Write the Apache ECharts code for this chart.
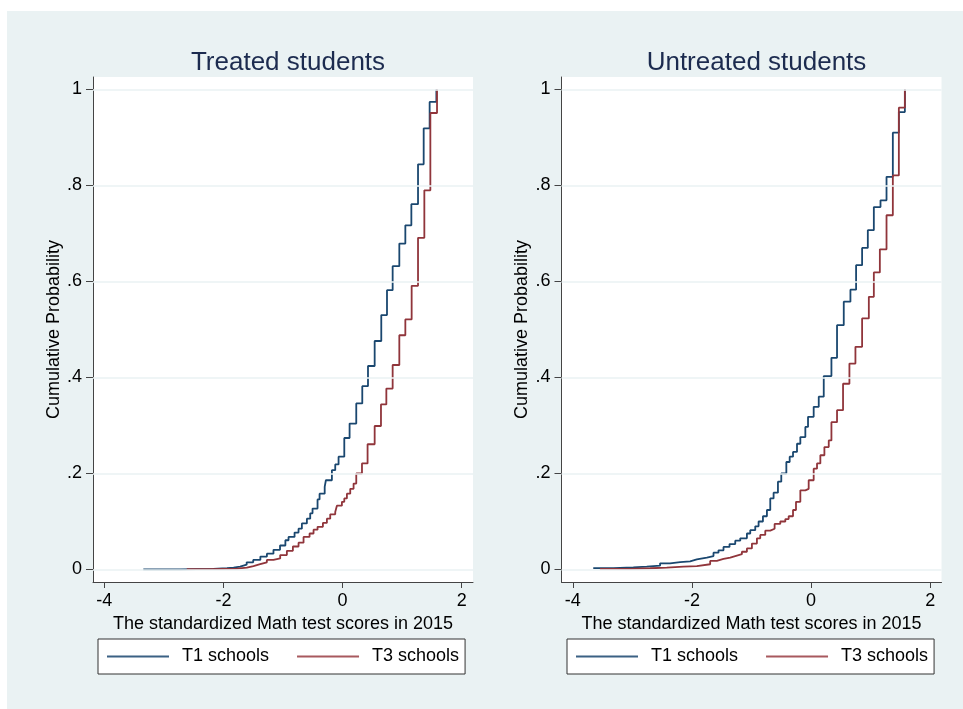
<!DOCTYPE html>
<html>
<head>
<meta charset="utf-8">
<script src="https://cdn.jsdelivr.net/npm/echarts@6/dist/echarts.min.js"></script>
<style>
html,body{margin:0;padding:0;background:#fff;}
#chart{width:963px;height:709px;background:#eaf2f3;box-shadow:inset 7px 11px 0 0 #fff;}
</style>
</head>
<body>
<div id="chart"></div>
<script>
// ---- data (ECDF step points: x = score, F = cumulative probability) ----
const panelTitles = ['Treated students', 'Untreated students'];
const seriesNames = ['T1 schools', 'T3 schools'];
const xTicks = [-4, -2, 0, 2];
const yTicks = [0, 0.2, 0.4, 0.6, 0.8, 1];
const yTickLabels = ['0', '.2', '.4', '.6', '.8', '1'];
const xAxisTitle = 'The standardized Math test scores in 2015';
const yAxisTitle = 'Cumulative Probability';

const t1TreatedX = [-3.345, -2.73, -2.17, -1.94, -1.83, -1.72, -1.61, -1.50, -1.38, -1.27, -1.16, -1.05, -0.96, -0.907, -0.806, -0.739, -0.683, -0.599, -0.543, -0.504, -0.42, -0.386, -0.30, -0.28, -0.179, -0.123, -0.067, 0.029, 0.118, 0.230, 0.331, 0.427, 0.539, 0.650, 0.746, 0.841, 0.953, 1.054, 1.155, 1.267, 1.362, 1.462, 1.575];
const t1TreatedF = [0.0005, 0.0014, 0.0028, 0.004, 0.006, 0.010, 0.015, 0.020, 0.027, 0.033, 0.041, 0.050, 0.061, 0.068, 0.077, 0.085, 0.096, 0.106, 0.117, 0.127, 0.146, 0.158, 0.172, 0.186, 0.207, 0.219, 0.235, 0.274, 0.304, 0.346, 0.382, 0.424, 0.476, 0.530, 0.582, 0.632, 0.679, 0.717, 0.761, 0.844, 0.919, 0.974, 1.0];

const t3TreatedX = [-2.615, -2.28, -2.0, -1.775, -1.607, -1.496, -1.383, -1.271, -1.160, -1.047, -0.935, -0.834, -0.739, -0.655, -0.554, -0.487, -0.42, -0.33, -0.263, -0.207, -0.123, -0.095, -0.011, 0.029, 0.073, 0.129, 0.185, 0.230, 0.326, 0.42, 0.539, 0.645, 0.735, 0.841, 0.953, 1.054, 1.16, 1.267, 1.373, 1.474, 1.586];
const t3TreatedF = [0.0008, 0.0015, 0.002, 0.004, 0.007, 0.011, 0.015, 0.020, 0.023, 0.030, 0.039, 0.048, 0.056, 0.068, 0.075, 0.083, 0.089, 0.097, 0.106, 0.115, 0.120, 0.133, 0.141, 0.148, 0.158, 0.168, 0.179, 0.200, 0.221, 0.261, 0.299, 0.344, 0.377, 0.426, 0.488, 0.521, 0.591, 0.691, 0.790, 0.951, 1.0];

const t1UntreatedX = [-3.657, -3.32, -2.984, -2.759, -2.535, -2.367, -2.198, -2.03, -1.918, -1.75, -1.638, -1.554, -1.47, -1.369, -1.273, -1.189, -1.077, -1.021, -0.937, -0.881, -0.808, -0.741, -0.685, -0.629, -0.556, -0.5, -0.415, -0.359, -0.303, -0.236, -0.180, -0.096, -0.051, 0.044, 0.129, 0.213, 0.342, 0.436, 0.549, 0.661, 0.756, 0.857, 0.953, 1.054, 1.166, 1.267, 1.373, 1.474, 1.575];
const t1UntreatedF = [0.003, 0.0045, 0.006, 0.008, 0.013, 0.0155, 0.017, 0.021, 0.025, 0.028, 0.035, 0.040, 0.047, 0.053, 0.060, 0.065, 0.075, 0.082, 0.090, 0.100, 0.111, 0.124, 0.148, 0.160, 0.183, 0.200, 0.224, 0.235, 0.245, 0.262, 0.276, 0.297, 0.318, 0.339, 0.360, 0.403, 0.441, 0.509, 0.558, 0.583, 0.634, 0.670, 0.707, 0.755, 0.769, 0.818, 0.910, 0.953, 1.0];

const t3UntreatedX = [-3.545, -3.04, -2.703, -2.423, -2.143, -1.918, -1.694, -1.582, -1.47, -1.357, -1.273, -1.161, -1.077, -0.993, -0.909, -0.853, -0.769, -0.685, -0.612, -0.517, -0.432, -0.376, -0.303, -0.253, -0.18, -0.096, -0.04, 0.044, 0.1, 0.156, 0.224, 0.297, 0.342, 0.436, 0.537, 0.644, 0.745, 0.857, 0.970, 1.054, 1.155, 1.267, 1.373, 1.474, 1.575];
const t3UntreatedF = [0.0012, 0.0026, 0.004, 0.006, 0.007, 0.011, 0.018, 0.022, 0.025, 0.028, 0.032, 0.037, 0.044, 0.054, 0.065, 0.072, 0.081, 0.085, 0.095, 0.100, 0.105, 0.111, 0.124, 0.141, 0.165, 0.168, 0.186, 0.210, 0.221, 0.238, 0.255, 0.269, 0.307, 0.332, 0.387, 0.429, 0.464, 0.523, 0.568, 0.619, 0.667, 0.738, 0.821, 0.962, 1.0];

// ---- styling ----
const FONT = '"Liberation Sans", Arial, Helvetica, sans-serif';
const BLUE = '#1a476f';
const RED = '#90353b';
const GRID_COLOR = '#eaf2f3';
const AXIS_COLOR = '#444';

function zip(xs, fs) { return xs.map((x, i) => [x, fs[i]]); }

const panels = [
  { left: 93, t1: zip(t1TreatedX, t1TreatedF), t3: zip(t3TreatedX, t3TreatedF), legendLeft: 98 },
  { left: 561.5, t1: zip(t1UntreatedX, t1UntreatedF), t3: zip(t3UntreatedX, t3UntreatedF), legendLeft: 567 }
];
const gridW = 380, gridTop = 77, gridH = 505;

const option = {
  animation: false,
  backgroundColor: 'transparent',
  textStyle: { fontFamily: FONT },
  title: panels.map((p, i) => ({
    text: panelTitles[i],
    left: p.left + gridW / 2,
    textAlign: 'center',
    top: 45,
    textStyle: { fontFamily: FONT, fontSize: 26, fontWeight: 'normal', color: '#1c2b4f' }
  })),
  legend: panels.map((p, i) => ({
    data: seriesNames.map((n, k) => ({ name: n, icon: 'rect', itemStyle: { color: k === 0 ? '#3b6184' : '#a8595e' } })),
    left: p.legendLeft,
    top: 639,
    orient: 'horizontal',
    itemWidth: 62,
    itemHeight: 2,
    itemGap: 28,
    padding: [8, 6, 8, 9],
    borderColor: '#333',
    borderWidth: 1,
    backgroundColor: '#fff',
    selectedMode: false,
    textStyle: { fontFamily: FONT, fontSize: 18, color: '#000', padding: [0, 0, 0, 8], lineHeight: 19 }
  })),
  grid: panels.map(p => ({
    left: p.left, top: gridTop, width: gridW, height: gridH,
    show: true, backgroundColor: '#fff', borderWidth: 0, containLabel: false
  })),
  xAxis: panels.map((p, i) => ({
    type: 'value', gridIndex: i, min: -4.19, max: 2.19,
    name: xAxisTitle, nameLocation: 'middle', nameGap: 29,
    nameTextStyle: { fontFamily: FONT, fontSize: 18, color: '#000' },
    axisLine: { show: true, onZero: false, lineStyle: { color: AXIS_COLOR, width: 1 } },
    axisTick: { show: true, length: 6, customValues: xTicks, lineStyle: { color: AXIS_COLOR } },
    axisLabel: { customValues: xTicks, margin: 10, fontFamily: FONT, fontSize: 18, color: '#000',
                 formatter: v => String(v) },
    splitLine: { show: false }
  })),
  yAxis: panels.map((p, i) => ({
    type: 'value', gridIndex: i, min: -0.026, max: 1.026,
    name: yAxisTitle, nameLocation: 'middle', nameGap: 30, nameRotate: 90,
    nameTextStyle: { fontFamily: FONT, fontSize: 18, color: '#000' },
    axisLine: { show: true, onZero: false, lineStyle: { color: AXIS_COLOR, width: 1 } },
    axisTick: { show: true, length: 7, customValues: yTicks, lineStyle: { color: AXIS_COLOR } },
    axisLabel: { customValues: yTicks, margin: 11, fontFamily: FONT, fontSize: 18, color: '#000',
                 formatter: v => { const k = yTicks.findIndex(t => Math.abs(t - v) < 1e-9); return k >= 0 ? yTickLabels[k] : ''; } },
    splitLine: { show: false }
  })),
  series: []
};

panels.forEach((p, i) => {
  option.series.push({
    name: '_grid' + i, type: 'line', xAxisIndex: i, yAxisIndex: i, data: [], z: 1, silent: true,
    markLine: {
      silent: true, symbol: 'none', animation: false,
      label: { show: false },
      lineStyle: { color: GRID_COLOR, width: 1.5, type: 'solid' },
      data: yTicks.map(v => ({ yAxis: v }))
    }
  });
  option.series.push({
    name: seriesNames[0], type: 'line', xAxisIndex: i, yAxisIndex: i, step: 'end',
    data: p.t1, symbol: 'none', showSymbol: false, z: 3,
    lineStyle: { color: BLUE, width: 1.8 }, itemStyle: { color: BLUE }
  });
  option.series.push({
    name: seriesNames[1], type: 'line', xAxisIndex: i, yAxisIndex: i, step: 'end',
    data: p.t3, symbol: 'none', showSymbol: false, z: 4,
    lineStyle: { color: RED, width: 1.8 }, itemStyle: { color: RED }
  });
});

const chart = echarts.init(document.getElementById('chart'), null, { renderer: 'canvas' });
chart.setOption(option);
</script>
</body>
</html>
